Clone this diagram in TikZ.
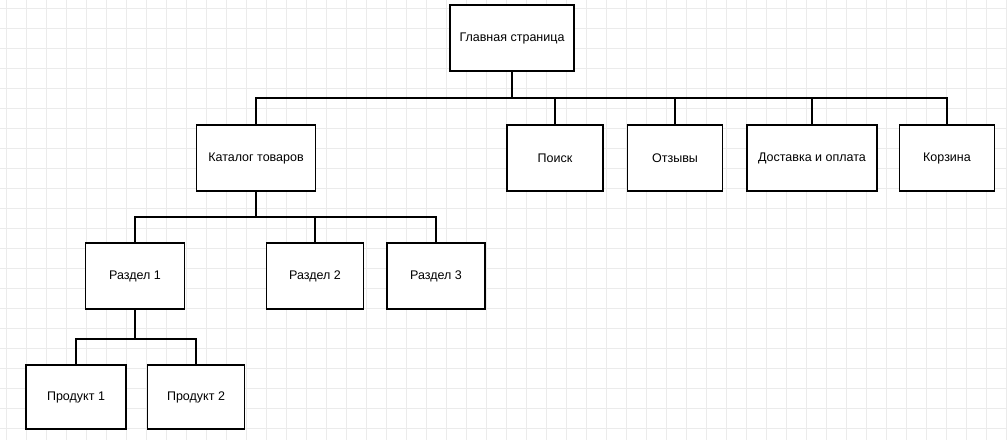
\documentclass[tikz,border=0pt]{standalone}
\usepackage{fontspec}
\setmainfont{Liberation Sans}
\begin{document}
\begin{tikzpicture}[x=1pt,y=-1pt,
  box/.style={draw=black,line width=1.8pt,fill=white,minimum height=66pt,inner sep=2pt,font=\fontsize{12.5}{14}\selectfont},
  conn/.style={line width=1.5pt}]
\useasboundingbox (0,0) rectangle (1007,440);
\fill[white] (0,0) rectangle (1007,440);
\foreach \i in {0,...,50} \draw[black!8,line width=0.8pt] (\i*20+6,0) -- (\i*20+6,440);
\foreach \i in {0,...,22} \draw[black!8,line width=0.8pt] (0,\i*20+8) -- (1007,\i*20+8);
\node[box,minimum width=124pt] (main) at (512,38) {Главная страница};
\node[box,minimum width=119pt] (cat) at (256,158) {Каталог товаров};
\node[box,minimum width=96pt] (search) at (555,158) {Поиск};
\node[box,minimum width=95pt] (rev) at (675,158) {Отзывы};
\node[box,minimum width=130pt] (del) at (812,158) {Доставка и оплата};
\node[box,minimum width=95pt] (cart) at (947,158) {Корзина};
\node[box,minimum width=99pt] (r1) at (135,276) {Раздел 1};
\node[box,minimum width=97pt] (r2) at (315,276) {Раздел 2};
\node[box,minimum width=98pt] (r3) at (436,276) {Раздел 3};
\node[box,minimum width=100pt,minimum height=64pt] (p1) at (76,397) {Продукт 1};
\node[box,minimum width=97pt,minimum height=64pt] (p2) at (196,397) {Продукт 2};
\coordinate (h1) at (512,98);
\coordinate (h2) at (256,217);
\coordinate (h3) at (135,339);
\draw[conn] (main.south) -- (h1);
\foreach \n in {cat,search,rev,del,cart} \draw[conn] (\n.north) |- (h1);
\draw[conn] (cat.south) -- (h2);
\foreach \n in {r1,r2,r3} \draw[conn] (\n.north) |- (h2);
\draw[conn] (r1.south) -- (h3);
\foreach \n in {p1,p2} \draw[conn] (\n.north) |- (h3);
\end{tikzpicture}
\end{document}
